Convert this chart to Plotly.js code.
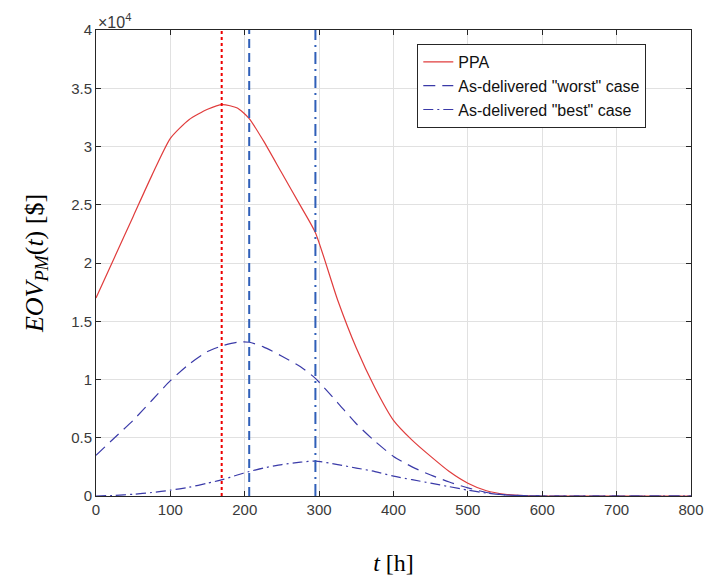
<!DOCTYPE html>
<html><head><meta charset="utf-8">
<script src="https://cdn.plot.ly/plotly-3.0.1.min.js"></script>
<style>html,body{margin:0;padding:0;background:#fff}#chart{width:707px;height:581px}</style>
</head><body><div id="chart"></div>
<script>
// time [h]
const tHours = [0,25,50,75,100,125,150,170,190,206,225,250,275,295,325,350,375,400,425,450,475,500,525,550,575,600,650,700,750,800];
// EOV values in units of 1e4 $
const ppa   = [1.70,2.05,2.40,2.75,3.07,3.23,3.32,3.36,3.33,3.24,3.05,2.77,2.49,2.26,1.68,1.27,0.93,0.65,0.48,0.34,0.21,0.11,0.045,0.015,0.004,0,0,0,0,0];
const worst = [0.35,0.50,0.65,0.82,0.99,1.13,1.24,1.29,1.32,1.32,1.28,1.20,1.11,1.01,0.80,0.62,0.47,0.34,0.25,0.18,0.12,0.07,0.03,0.01,0.003,0,0,0,0,0];
const best  = [0,0.005,0.015,0.03,0.05,0.075,0.11,0.14,0.18,0.21,0.24,0.27,0.29,0.30,0.27,0.24,0.21,0.17,0.14,0.11,0.08,0.05,0.025,0.01,0.003,0,0,0,0,0];
// peak-time markers [h]
const peakPPA = 169, peakWorst = 206, peakBest = 295;
const yTop = 4;
const seriesNames = ['PPA','As-delivered "worst" case','As-delivered "best" case'];
const xTicks = [0,100,200,300,400,500,600,700,800];
const yTicks = [0,0.5,1,1.5,2,2.5,3,3.5,4];

const traces = [
  {x:tHours,y:ppa,name:seriesNames[0],mode:'lines',line:{color:'#e03c3c',width:1.2,shape:'spline',smoothing:0.6}},
  {x:tHours,y:worst,name:seriesNames[1],mode:'lines',line:{color:'#3a3aa8',width:1.2,dash:'12px,7px',shape:'spline',smoothing:0.6}},
  {x:tHours,y:best,name:seriesNames[2],mode:'lines',line:{color:'#3a3aa8',width:1.2,dash:'10px,4px,2px,4px',shape:'spline',smoothing:0.6}},
  {x:[peakPPA,peakPPA],y:[0,yTop],mode:'lines',showlegend:false,line:{color:'#ee0000',width:2,dash:'dot'}},
  {x:[peakWorst,peakWorst],y:[0,yTop],mode:'lines',showlegend:false,line:{color:'#2f5fb8',width:2,dash:'9px,5px'}},
  {x:[peakBest,peakBest],y:[0,yTop],mode:'lines',showlegend:false,line:{color:'#2f5fb8',width:2,dash:'12px,5px,2px,5px'}}
];
const axisCommon = {
  showline:true, linecolor:'#262626', linewidth:1, mirror:'allticks',
  ticks:'inside', ticklen:5, tickcolor:'#262626',
  showgrid:true, gridcolor:'#e1e1e1', gridwidth:1, zeroline:false,
  tickfont:{family:'Liberation Sans, Arial, sans-serif', size:15, color:'#3a3a3a'}
};
const layout = {
  width:707, height:581,
  margin:{l:96,r:16,t:30,b:85},
  paper_bgcolor:'#fff', plot_bgcolor:'#fff',
  showlegend:true,
  xaxis:Object.assign({}, axisCommon, {range:[0,800], tickvals:xTicks, ticktext:xTicks.map(String),
    title:{text:'<i>t</i> [h]', font:{family:'Liberation Serif, Times New Roman, serif', size:24, color:'#000'}, standoff:37}}),
  yaxis:Object.assign({}, axisCommon, {range:[0,4], tickvals:yTicks, ticktext:yTicks.map(String),
    title:{text:'<i>EOV</i><sub><i>PM</i></sub>(<i>t</i>) [$]', font:{family:'Liberation Serif, Times New Roman, serif', size:26, color:'#000'}, standoff:20}}),
  legend:{x:0.54, y:0.97, xanchor:'left', yanchor:'top', bgcolor:'#fff', bordercolor:'#262626', borderwidth:1,
    font:{family:'Liberation Sans, Arial, sans-serif', size:16, color:'#111'}, tracegroupgap:0},
  annotations:[{xref:'paper',yref:'paper',x:0,y:1,xanchor:'left',yanchor:'bottom',showarrow:false,yshift:-3,
    text:'×10<sup>4</sup>', font:{family:'Liberation Sans, Arial, sans-serif', size:16, color:'#3a3a3a'}}]
};
Plotly.newPlot('chart', traces, layout, {displayModeBar:false, staticPlot:true});
</script></body></html>
